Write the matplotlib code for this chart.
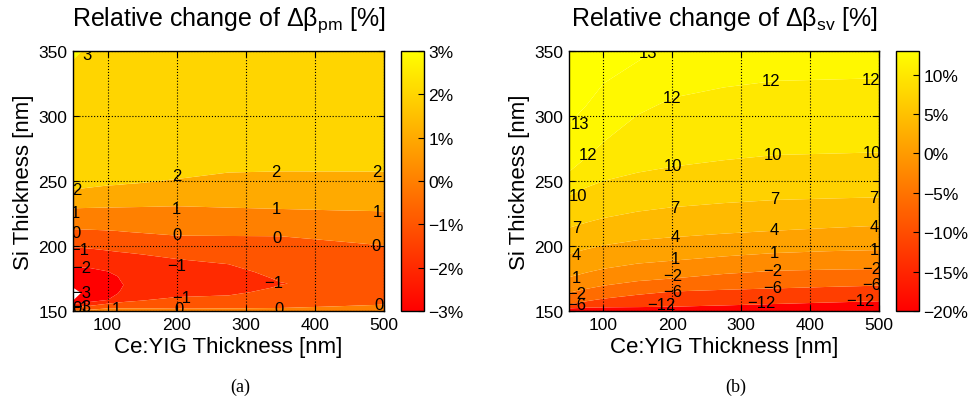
import numpy as np
import matplotlib
matplotlib.use("Agg")
import matplotlib.pyplot as plt
from matplotlib import cm, colors

plt.rcParams['font.family'] = ['Liberation Sans', 'DejaVu Sans']
plt.rcParams['mathtext.fontset'] = 'custom'
plt.rcParams['mathtext.rm'] = 'Liberation Sans'
plt.rcParams['mathtext.it'] = 'Liberation Sans'
plt.rcParams['axes.unicode_minus'] = True

# ---- (a) delta beta_pm : one column per Ce:YIG thickness ----
cyig_pm = [50, 75, 100, 115, 125, 150, 200, 275, 350, 425, 500]
si_pm = [
    [150, 150.5, 153, 155.6, 158, 163, 168, 184, 199, 213, 229, 243.4, 290, 350],
    [150, 151, 154, 157, 160, 165, 172, 183, 198, 212.5, 229.3, 245, 290, 350],
    [150, 152, 155.6, 158.5, 162, 169, 175, 180.5, 196.5, 212, 229.6, 246.5, 290, 350],
    [150, 152, 156.5, 163.5, 166, 170, 173, 176.5, 195.5, 211.5, 229.7, 247, 290, 350],
    [150, 152, 157, 163, 166, 170, 174, 178, 195, 211, 229.8, 247.5, 290, 350],
    [150, 152, 158, 163, 166, 170, 175, 180, 193.5, 210, 230, 248.5, 290, 350],
    [150, 151.8, 160.7, 164, 167, 170, 175, 182, 190, 208, 230.6, 251.5, 290, 350],
    [150, 152, 162, 165, 168, 171, 175, 180, 186, 207.7, 229.5, 256.5, 295, 350],
    [150, 152.3, 160, 164, 168, 171, 175, 180, 188, 207.5, 228.5, 257.4, 300, 350],
    [150, 153.5, 160, 164, 168, 172, 176, 181, 188, 204, 227.5, 257.3, 300, 350],
    [150, 154.9, 160, 164, 168, 172, 176, 181, 188, 200.4, 226.7, 257.2, 300, 350],
]
dpm = [
    [0.3, 0, -1, -2, -3, -3.3, -3, -2, -1, 0, 1, 2, 2.6, 3.05],
    [0.9, 0, -1, -2, -2.3, -2.65, -2.45, -2, -1, 0, 1, 2, 2.55, 2.95],
    [1.05, 0, -1, -2, -2.15, -2.25, -2.15, -2, -1, 0, 1, 2, 2.5, 2.85],
    [1.0, 0, -1, -2, -2.07, -2.12, -2.07, -2, -1, 0, 1, 2, 2.5, 2.82],
    [1.0, 0, -1, -1.7, -1.88, -1.97, -1.88, -1.75, -1, 0, 1, 2, 2.5, 2.8],
    [0.8, 0, -1, -1.5, -1.7, -1.85, -1.75, -1.6, -1, 0, 1, 2, 2.5, 2.75],
    [0.4, 0, -1, -1.35, -1.5, -1.6, -1.5, -1.3, -1, 0, 1, 2, 2.45, 2.7],
    [0.3, 0, -1, -1.15, -1.25, -1.3, -1.25, -1.15, -1, 0, 1, 2, 2.4, 2.65],
    [0.3, 0, -0.6, -0.8, -0.95, -1.02, -0.95, -0.85, -0.6, 0, 1, 2, 2.35, 2.6],
    [0.4, 0, -0.5, -0.7, -0.82, -0.88, -0.85, -0.78, -0.6, 0, 1, 2, 2.35, 2.6],
    [0.5, 0, -0.4, -0.6, -0.75, -0.82, -0.8, -0.72, -0.5, 0, 1, 2, 2.35, 2.6],
]
levels_pm = [-3, -2, -1, 0, 1, 2, 3, 4]
clim_pm = (-3, 3)
cticks_pm = [-3, -2, -1, 0, 1, 2, 3]
labels_pm = [
    (70, 347.4, 3),
    (55, 243.4, 2), (200, 254, 2), (344, 257, 2), (489, 257, 2),
    (54, 226, 1), (200, 229, 1), (344.5, 228.5, 1), (490, 226.7, 1),
    (55, 210, 0), (200, 208.8, 0), (344.5, 206.3, 0), (489, 200.4, 0),
    (60, 197.3, -1), (200, 185, -1), (340.7, 171.7, -1), (207, 160.7, -1),
    (62, 183.8, -2), (62, 164.6, -3),
    (56, 152.5, 0), (60, 153, -1), (63, 153.5, -3),
    (113, 151.8, 1), (203, 152.3, 0), (348, 152.3, 0), (493, 154.9, 0),
]

# ---- (b) delta beta_sv ----
cyig_sv = [50, 75, 100, 150, 200, 275, 350, 425, 500]
si_sv = [
    [150, 152, 155, 164, 176, 194, 214, 239, 257, 294, 350],
    [150, 152.5, 157.5, 167, 179.5, 197.5, 218, 245, 268, 308, 350],
    [150, 152.8, 159.5, 169.5, 182.5, 200.5, 221.5, 250, 280, 325, 350],
    [150, 153, 162.5, 173, 186.5, 204.5, 226.5, 256.5, 301, 342, 350],
    [150, 153.3, 165, 175, 188.7, 206.7, 229.8, 261, 314, 335, 350],
    [150, 154.3, 166.3, 178.5, 192, 209.5, 233, 266, 322, 338, 350],
    [150, 155.4, 167.4, 181, 194.6, 211.8, 235.4, 270, 327, 340, 350],
    [150, 156.5, 168.5, 181.8, 196, 213.8, 236.5, 271, 328, 340, 350],
    [150, 157.5, 169.5, 182.3, 196.9, 215.6, 237.4, 272, 329, 340, 350],
]
dsv = [
    [-15, -12, -6, -2, 1, 4, 7, 10, 12, 13, 13.7],
    [-16, -12, -6, -2, 1, 4, 7, 10, 12, 13, 13.5],
    [-16.5, -12, -6, -2, 1, 4, 7, 10, 12, 13, 13.3],
    [-17, -12, -6, -2, 1, 4, 7, 10, 12, 13, 13.1],
    [-17, -12, -6, -2, 1, 4, 7, 10, 12, 12.6, 12.9],
    [-17.5, -12, -6, -2, 1, 4, 7, 10, 12, 12.4, 12.7],
    [-18, -12, -6, -2, 1, 4, 7, 10, 12, 12.3, 12.6],
    [-18, -12, -6, -2, 1, 4, 7, 10, 12, 12.3, 12.55],
    [-18, -12, -6, -2, 1, 4, 7, 10, 12, 12.25, 12.5],
]
levels_sv = [-20, -12, -6, -2, 1, 4, 7, 10, 12, 13, 14]
clim_sv = (-20, 13)
cticks_sv = [-20, -15, -10, -5, 0, 5, 10]
labels_sv = [
    (165.4, 348.7, 13), (65.5, 294.5, 13),
    (77.5, 270.7, 12), (199, 314.2, 12), (343, 327, 12), (488, 328.3, 12),
    (63, 238.7, 10), (200.7, 261.8, 10), (345.5, 270, 10), (490, 272, 10),
    (60.6, 214.5, 7), (204, 229.3, 7), (348.4, 236.2, 7), (492.8, 237, 7),
    (60.6, 193.5, 4), (204, 207.3, 4), (348.4, 212.7, 4), (492.8, 215, 4),
    (60.6, 176, 1), (204, 190, 1), (348.4, 195.3, 1), (492.8, 197.3, 1),
    (61.6, 163.3, -2), (200.7, 177.4, -2), (345.5, 181.2, -2), (490, 182.5, -2),
    (60.6, 154.9, -6), (200.7, 165, -6), (345.5, 168.2, -6), (490, 170.2, -6),
    (183.7, 154.9, -12), (328.6, 156.4, -12), (473.5, 158.2, -12),
]


def fmt_num(v):
    return str(v).replace("-", "\u2212")


def draw_panel(fig, ax_rect, cb_rect, xcols, ycols, zcols, levels, clim,
               cticks, labels, title, caption):
    ax = fig.add_axes(ax_rect)
    Y = np.array(ycols, dtype=float).T
    Z = np.array(zcols, dtype=float).T
    X = np.tile(np.array(xcols, dtype=float), (Y.shape[0], 1))

    # each band takes the colormap colour of its lower level
    cmap = plt.get_cmap('autumn')
    norm = colors.Normalize(*clim)
    band_colors = [cmap(norm(min(lv, clim[1]))) for lv in levels[:-1]]
    ax.contourf(X, Y, Z, levels=levels, colors=band_colors, antialiased=True)

    for x, y, v in labels:
        ax.text(x, y, fmt_num(v), ha='center', va='center', fontsize=12,
                color='black', clip_on=True)

    ax.set_xlim(50, 500)
    ax.set_ylim(150, 350)
    ax.set_xticks([100, 200, 300, 400, 500])
    ax.set_yticks([150, 200, 250, 300, 350])
    ax.grid(True, linestyle=':', color='black', linewidth=0.8)
    ax.tick_params(direction='in', top=True, right=True, length=4,
                   labelsize=12.5, pad=4)
    for s in ax.spines.values():
        s.set_linewidth(1.0)
    ax.set_xlabel('Ce:YIG Thickness [nm]', fontsize=16, labelpad=3)
    ax.set_ylabel('Si Thickness [nm]', fontsize=16, labelpad=3)
    ax.set_title(title, fontsize=18, pad=18.5)

    cax = fig.add_axes(cb_rect)
    sm = cm.ScalarMappable(norm=norm, cmap=cmap)
    cb = fig.colorbar(sm, cax=cax, ticks=cticks)
    cb.ax.set_yticklabels([fmt_num(t) + '%' for t in cticks])
    cb.ax.tick_params(direction='in', length=4, labelsize=12.5, pad=3)
    cb.outline.set_linewidth(1.0)

    fig.text(ax_rect[0] + ax_rect[2] / 2 + 0.012, 0.037, caption,
             ha='center', va='center', fontsize=13, family='Liberation Serif')
    return ax


fig = plt.figure(figsize=(9.72, 4.02), dpi=100)

draw_panel(fig, [0.0751, 0.2239, 0.3200, 0.6468], [0.4126, 0.2239, 0.0237, 0.6468],
           cyig_pm, si_pm, dpm, levels_pm, clim_pm, cticks_pm, labels_pm,
           r'Relative change of Δβ$_{\mathrm{pm}}$ [%]', '(a)')
draw_panel(fig, [0.5854, 0.2239, 0.3189, 0.6468], [0.9218, 0.2239, 0.0237, 0.6468],
           cyig_sv, si_sv, dsv, levels_sv, clim_sv, cticks_sv, labels_sv,
           r'Relative change of Δβ$_{\mathrm{sv}}$ [%]', '(b)')

fig.savefig('out.png', dpi=100)
